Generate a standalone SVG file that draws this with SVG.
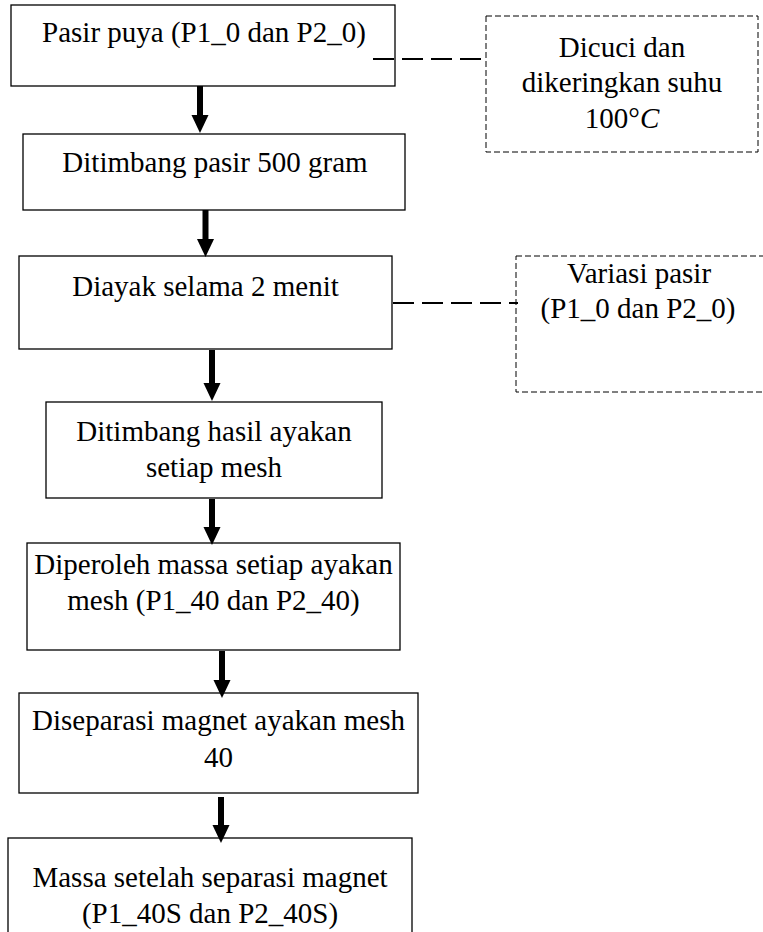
<svg xmlns="http://www.w3.org/2000/svg" width="763" height="932" viewBox="0 0 763 932" font-family="Liberation Serif, Times New Roman, DejaVu Serif, serif">
  <style>
    .box { fill: #ffffff; stroke: #000000; stroke-width: 1.3; }
    .note { fill: none; stroke: #000000; stroke-width: 1; stroke-dasharray: 6 3; }
    .flow { stroke: #000000; stroke-width: 6; fill: none; }
    .link { stroke: #000000; stroke-width: 2.2; stroke-dasharray: 21 8; fill: none; }
    .t { font-size: 29px; fill: #000000; text-anchor: middle; }
  </style>
  <defs>
    <marker id="head" markerUnits="userSpaceOnUse" markerWidth="18" markerHeight="19" refX="0" refY="9" orient="auto" viewBox="0 0 19 18">
      <path d="M0 0 L19 9 L0 18 Z" fill="#000000"/>
    </marker>
  </defs>

  <rect width="763" height="932" fill="#ffffff"/>

  <!-- main process steps -->
  <g id="step-pasir-puya">
    <rect class="box" x="11" y="5" width="384" height="81"/>
    <text class="t" x="204" y="42" font-family="Liberation Serif, serif">Pasir puya (P1_0 dan P2_0)</text>
  </g>
  <g id="step-ditimbang">
    <rect class="box" x="23" y="134" width="382" height="76"/>
    <text class="t" x="215" y="172">Ditimbang pasir 500 gram</text>
  </g>
  <g id="step-diayak">
    <rect class="box" x="19" y="256" width="373" height="93"/>
    <text class="t" x="205.5" y="296">Diayak selama 2 menit</text>
  </g>
  <g id="step-hasil-ayakan">
    <rect class="box" x="46" y="402" width="336" height="96"/>
    <text class="t" x="214" y="441">Ditimbang hasil ayakan</text>
    <text class="t" x="214" y="477">setiap mesh</text>
  </g>
  <g id="step-massa-mesh">
    <rect class="box" x="27" y="543" width="373" height="107"/>
    <text class="t" x="213.5" y="574">Diperoleh massa setiap ayakan</text>
    <text class="t" x="213.5" y="610">mesh (P1_40 dan P2_40)</text>
  </g>
  <g id="step-separasi">
    <rect class="box" x="19" y="693" width="399" height="100"/>
    <text class="t" x="218.5" y="730">Diseparasi magnet ayakan mesh</text>
    <text class="t" x="218.5" y="767">40</text>
  </g>
  <g id="step-hasil-akhir">
    <rect class="box" x="8" y="838" width="404" height="100"/>
    <text class="t" x="210" y="887">Massa setelah separasi magnet</text>
    <text class="t" x="210" y="923">(P1_40S dan P2_40S)</text>
  </g>

  <!-- side notes -->
  <g id="note-dicuci">
    <rect class="note" x="486" y="16" width="272" height="136"/>
    <text class="t" x="622" y="57">Dicuci dan</text>
    <text class="t" x="622" y="92">dikeringkan suhu</text>
    <text class="t" x="622" y="128">100°<tspan font-style="italic">C</tspan></text>
  </g>
  <g id="note-variasi">
    <rect class="note" x="516" y="256" width="280" height="136"/>
    <text class="t" x="639" y="283">Variasi pasir</text>
    <text class="t" x="638" y="318">(P1_0 dan P2_0)</text>
  </g>

  <!-- connectors -->
  <g id="connectors">
    <line class="flow" x1="200" y1="86" x2="200" y2="115" marker-end="url(#head)"/>
    <line class="flow" x1="205.5" y1="210" x2="205.5" y2="239" marker-end="url(#head)"/>
    <line class="flow" x1="212" y1="350" x2="212" y2="383" marker-end="url(#head)"/>
    <line class="flow" x1="212" y1="499" x2="212" y2="527" marker-end="url(#head)"/>
    <line class="flow" x1="222" y1="651" x2="222" y2="680" marker-end="url(#head)"/>
    <line class="flow" x1="221" y1="797" x2="221" y2="825" marker-end="url(#head)"/>
    <line class="link" x1="373" y1="59" x2="486" y2="59"/>
    <line class="link" x1="393" y1="303" x2="518" y2="303"/>
  </g>
</svg>
